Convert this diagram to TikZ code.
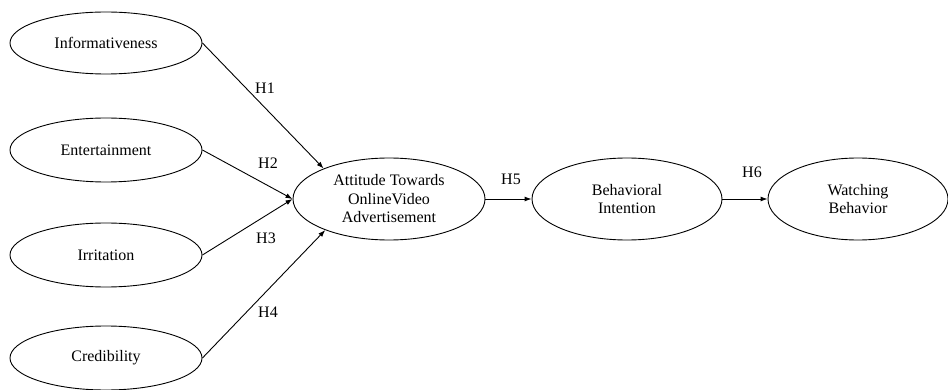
\documentclass[tikz,border=0pt]{standalone}
\usepackage{fontspec}
\setmainfont{Liberation Serif}
\usepackage{tikz}
\usetikzlibrary{arrows.meta,shapes.geometric}

\begin{document}
\begin{tikzpicture}[
  x=1pt, y=-1pt,
  construct/.style={draw, ellipse, line width=0.9pt, minimum width=192pt, minimum height=62pt, align=center, inner sep=0pt, font=\fontsize{16}{18.5}\selectfont},
  path/.style={-{Latex[length=7pt,width=5pt]}, line width=0.9pt},
  hyp/.style={font=\fontsize{16}{18.5}\selectfont, inner sep=0pt}
]
  \useasboundingbox (0,0) rectangle (948,390);

  \node[construct] (info) at (106,43) {Informativeness};
  \node[construct, minimum height=64pt] (ent) at (106,150) {Entertainment};
  \node[construct, minimum height=64pt] (irr) at (106,255) {Irritation};
  \node[construct, minimum height=64pt] (cred) at (106,358) {Credibility};
  \node[construct, minimum height=82pt] (att) at (389,199) {Attitude Towards\\OnlineVideo\\Advertisement};
  \node[construct, minimum width=190pt, minimum height=82pt] (bi) at (627,199) {Behavioral\\Intention};
  \node[construct, minimum width=180pt, minimum height=82pt] (wb) at (858,199) {Watching\\Behavior};

  \draw[path] (info.east) -- (att.155);
  \draw[path] (ent.east) -- (att.west);
  \draw[path] (irr.east) -- (att.west);
  \draw[path] (cred.east) -- (att.206);
  \draw[path] (att.east) -- (bi.west);
  \draw[path] (bi.east) -- (wb.west);

  \node[hyp] (h1) at (265,88) {H1};
  \node[hyp] (h2) at (268,163) {H2};
  \node[hyp] (h3) at (266,238) {H3};
  \node[hyp] (h4) at (268,312) {H4};
  \node[hyp] (h5) at (511,179) {H5};
  \node[hyp] (h6) at (752,172) {H6};
\end{tikzpicture}
\end{document}
